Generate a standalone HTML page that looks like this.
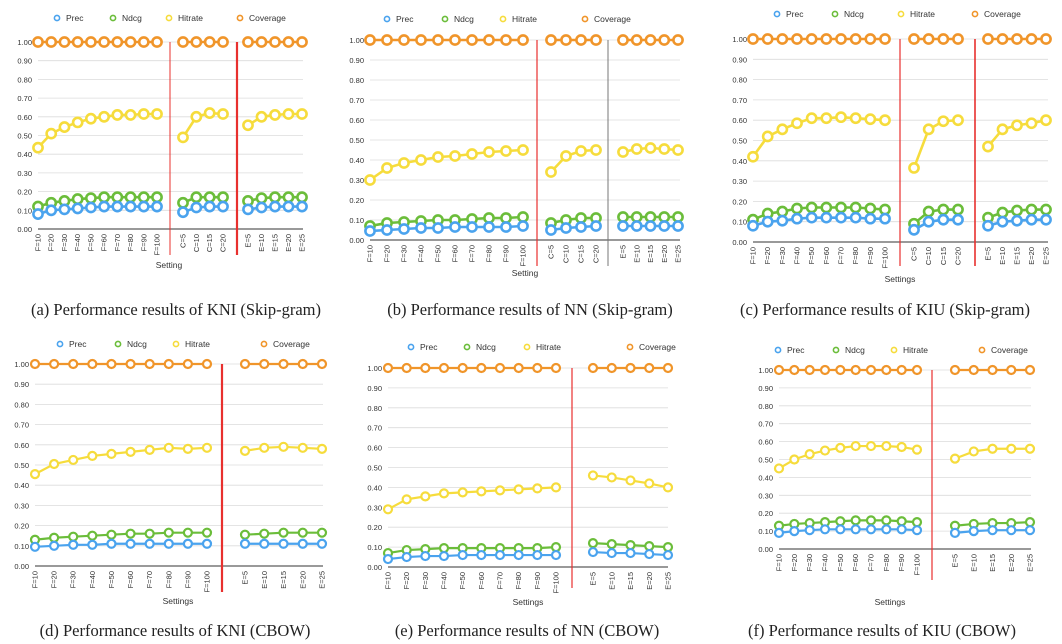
<!DOCTYPE html>
<html><head><meta charset="utf-8">
<style>
html,body{margin:0;padding:0;background:#fff;}
svg{display:block;font-family:"Liberation Sans",sans-serif;}
.cap{font-family:"Liberation Serif",serif;font-size:16.5px;fill:#222;}
</style></head>
<body>
<svg id="fig" width="1062" height="644" viewBox="0 0 1062 644"></svg>
<script>
// ---------- data ----------
const fLabels=["F=10","F=20","F=30","F=40","F=50","F=60","F=70","F=80","F=90","F=100"];
const cLabels=["C=5","C=10","C=15","C=20"];
const eLabels=["E=5","E=10","E=15","E=20","E=25"];
const yTicks=[0,0.1,0.2,0.3,0.4,0.5,0.6,0.7,0.8,0.9,1.0];
const seriesNames=["Prec","Ndcg","Hitrate","Coverage"];

// (a) KNI Skip-gram
const aPrec=[[.08,.10,.105,.11,.115,.12,.12,.12,.12,.12],[.09,.115,.12,.12],[.105,.115,.12,.12,.12]];
const aNdcg=[[.12,.14,.15,.16,.165,.17,.17,.17,.17,.17],[.14,.17,.17,.17],[.15,.165,.17,.17,.17]];
const aHit=[[.435,.51,.545,.57,.59,.60,.61,.61,.615,.615],[.49,.60,.62,.615],[.555,.60,.61,.615,.615]];
// (b) NN Skip-gram
const bPrec=[[.045,.05,.055,.06,.06,.065,.065,.065,.065,.07],[.05,.06,.065,.07],[.07,.07,.07,.07,.07]];
const bNdcg=[[.07,.085,.09,.095,.10,.10,.105,.11,.11,.115],[.085,.10,.11,.11],[.115,.115,.115,.115,.115]];
const bHit=[[.30,.36,.385,.40,.415,.42,.43,.44,.445,.45],[.34,.42,.445,.45],[.44,.455,.46,.455,.45]];
// (c) KIU Skip-gram
const cPrec=[[.08,.10,.105,.115,.12,.12,.12,.12,.115,.115],[.06,.10,.11,.11],[.08,.10,.105,.11,.11]];
const cNdcg=[[.11,.14,.15,.165,.17,.17,.17,.17,.165,.16],[.09,.15,.16,.16],[.12,.145,.155,.16,.16]];
const cHit=[[.42,.52,.555,.585,.61,.61,.615,.61,.605,.60],[.365,.555,.595,.60],[.47,.555,.575,.585,.60]];
// (d) KNI CBOW
const dPrec=[[.095,.10,.105,.105,.11,.11,.11,.11,.11,.11],[.11,.11,.11,.11,.11]];
const dNdcg=[[.13,.14,.145,.15,.155,.16,.16,.165,.165,.165],[.155,.16,.165,.165,.165]];
const dHit=[[.455,.505,.525,.545,.555,.565,.575,.585,.58,.585],[.57,.585,.59,.585,.58]];
// (e) NN CBOW
const ePrec=[[.04,.05,.055,.055,.06,.06,.06,.06,.06,.06],[.075,.07,.07,.065,.06]];
const eNdcg=[[.07,.085,.09,.095,.095,.095,.095,.095,.095,.10],[.12,.115,.11,.105,.10]];
const eHit=[[.29,.34,.355,.37,.375,.38,.385,.39,.395,.40],[.46,.45,.435,.42,.40]];
// (f) KIU CBOW
const fPrec=[[.09,.10,.105,.11,.11,.11,.11,.11,.11,.105],[.09,.10,.105,.105,.105]];
const fNdcg=[[.13,.14,.145,.15,.155,.16,.16,.16,.155,.15],[.13,.14,.145,.145,.15]];
const fHit=[[.45,.50,.53,.55,.565,.575,.575,.575,.57,.555],[.505,.545,.56,.56,.56]];
const covA=[[1,1,1,1,1,1,1,1,1,1],[1,1,1,1],[1,1,1,1,1]];
const covB=[[1,1,1,1,1,1,1,1,1,1],[1,1,1,1,1]];

// ---------- drawing ----------
const NS="http://www.w3.org/2000/svg";
const svg=document.getElementById('fig');
const COLORS=["#4aa3ee","#6bbd3a","#f6dc3c","#f0952a"];
function mk(tag,attrs,parent){const e=document.createElementNS(NS,tag);for(const k in attrs)e.setAttribute(k,attrs[k]);(parent||svg).appendChild(e);return e;}

function panel(p){
  const g=mk('g',{});
  
  
  const y=v=>p.y0+(p.y1-p.y0)*v;
  const lg=mk('g',{},g);
  
  
  seriesNames.forEach((n,i)=>{
    const lx=p.legX+i*p.legStep[i];
    const c=mk('circle',{cx:lx,cy:p.legY,r:2.6,fill:'none',stroke:COLORS[i],'stroke-width':1.6},lg);
    
    
    const t=mk('text',{x:lx+9,y:p.legY+3,'font-size':8.5,fill:'#333'},lg);
    t.textContent=n;
    
    
  });
  yTicks.forEach(v=>{
    const yy=y(v);
    const gl=mk('line',{x1:p.axX,x2:p.gridEnd,y1:yy,y2:yy,stroke:v===0?'#333':'#dcdcdc','stroke-width':v===0?1:0.8},g);
    
    
    const t=mk('text',{x:p.axX-6,y:yy+3,'font-size':7.5,'text-anchor':'end',fill:'#333'},g);
    t.textContent=v.toFixed(2);
    
    
  });
  p.seps.forEach(s=>{
    const l=mk('line',{x1:s.x,x2:s.x,y1:y(1),y2:p.sepBottom,stroke:s.c,'stroke-width':s.w},g);
    
    
  });
  p.groups.forEach((grp,gi)=>{
    const n=grp.labels.length;
    const xs=grp.labels.map((_,i)=>grp.xa+(n>1?(grp.xb-grp.xa)*i/(n-1):0));
    grp.labels.forEach((lab,i)=>{
      const t=mk('text',{x:0,y:0,'font-size':7.5,'text-anchor':'end',fill:'#333',transform:`translate(${xs[i]+2.5},${p.y0+5}) rotate(-90)`},g);
      t.textContent=lab;
      
      
    });
    const sets=[p.prec[gi],p.ndcg[gi],p.hit[gi],p.cov[gi]];
    [3,2,1,0].forEach(si=>{
      const vals=sets[si];
      const pts=vals.map((v,i)=>xs[i]+','+y(v)).join(' ');
      const pl=mk('polyline',{points:pts,fill:'none',stroke:COLORS[si],'stroke-width':p.lw},g);
      
      
      vals.forEach((v,i)=>{
        const c=mk('circle',{cx:xs[i],cy:y(v),r:p.r,fill:'#fff',stroke:COLORS[si],'stroke-width':p.lw},g);
        
        
      });
    });
  });
  const xt=mk('text',{x:p.xTitleX,y:p.xTitleY,'font-size':8.5,'text-anchor':'middle',fill:'#333'},g);
  xt.textContent=p.xTitle;
  
  
  const cp=mk('text',{x:p.capX,y:p.capY,'text-anchor':'middle',class:'cap'},g);
  cp.textContent=p.caption;
  
  
}

const RED='#e8302e';
panel({id:'a',y0:229,y1:42,axX:38,gridEnd:303,legX:57,legY:18,legStep:[0,56,56,61],lw:2.6,r:4.6,
  seps:[{x:170,c:RED,w:1},{x:237,c:RED,w:2.2}],sepBottom:255,
  groups:[{labels:fLabels,xa:38,xb:157},{labels:cLabels,xa:183,xb:223},{labels:eLabels,xa:248,xb:302}],
  prec:aPrec,ndcg:aNdcg,hit:aHit,cov:covA,xTitle:'Setting',xTitleX:169,xTitleY:268,
  caption:'(a) Performance results of KNI (Skip-gram)',capX:176,capY:315});
panel({id:'b',y0:240,y1:40,axX:370,gridEnd:680,legX:387,legY:19,legStep:[0,58,58,66],lw:2.6,r:4.6,
  seps:[{x:537,c:RED,w:1.2},{x:608,c:'#777',w:1}],sepBottom:266,
  groups:[{labels:fLabels,xa:370,xb:523},{labels:cLabels,xa:551,xb:596},{labels:eLabels,xa:623,xb:678}],
  prec:bPrec,ndcg:bNdcg,hit:bHit,cov:covA,xTitle:'Setting',xTitleX:525,xTitleY:276,
  caption:'(b) Performance results of NN (Skip-gram)',capX:530,capY:315});
panel({id:'c',y0:242,y1:39,axX:753,gridEnd:1048,legX:777,legY:14,legStep:[0,58,62,66],lw:2.6,r:4.6,
  seps:[{x:900,c:RED,w:1.2},{x:975,c:RED,w:1.6}],sepBottom:266,
  groups:[{labels:fLabels,xa:753,xb:885},{labels:cLabels,xa:914,xb:958},{labels:eLabels,xa:988,xb:1046}],
  prec:cPrec,ndcg:cNdcg,hit:cHit,cov:covA,xTitle:'Settings',xTitleX:900,xTitleY:282,
  caption:'(c) Performance results of KIU (Skip-gram)',capX:885,capY:315});
panel({id:'d',y0:566,y1:364,axX:35,gridEnd:323,legX:60,legY:344,legStep:[0,58,58,68],lw:2.2,r:4,
  seps:[{x:222,c:RED,w:2.2}],sepBottom:592,
  groups:[{labels:fLabels,xa:35,xb:207},{labels:eLabels,xa:245,xb:322}],
  prec:dPrec,ndcg:dNdcg,hit:dHit,cov:covB,xTitle:'Settings',xTitleX:178,xTitleY:604,
  caption:'(d) Performance results of KNI (CBOW)',capX:175,capY:636});
panel({id:'e',y0:567,y1:368,axX:388,gridEnd:668,legX:411,legY:347,legStep:[0,56,58,73],lw:2.2,r:4,
  seps:[{x:572,c:RED,w:1.2}],sepBottom:588,
  groups:[{labels:fLabels,xa:388,xb:556},{labels:eLabels,xa:593,xb:668}],
  prec:ePrec,ndcg:eNdcg,hit:eHit,cov:covB,xTitle:'Settings',xTitleX:528,xTitleY:605,
  caption:'(e) Performance results of NN (CBOW)',capX:527,capY:636});
panel({id:'f',y0:549,y1:370,axX:779,gridEnd:1031,legX:778,legY:350,legStep:[0,58,58,68],lw:2.2,r:4,
  seps:[{x:932,c:RED,w:1.2}],sepBottom:580,
  groups:[{labels:fLabels,xa:779,xb:917},{labels:eLabels,xa:955,xb:1030}],
  prec:fPrec,ndcg:fNdcg,hit:fHit,cov:covB,xTitle:'Settings',xTitleX:890,xTitleY:605,
  caption:'(f) Performance results of KIU (CBOW)',capX:882,capY:636});
</script>
</body></html>
